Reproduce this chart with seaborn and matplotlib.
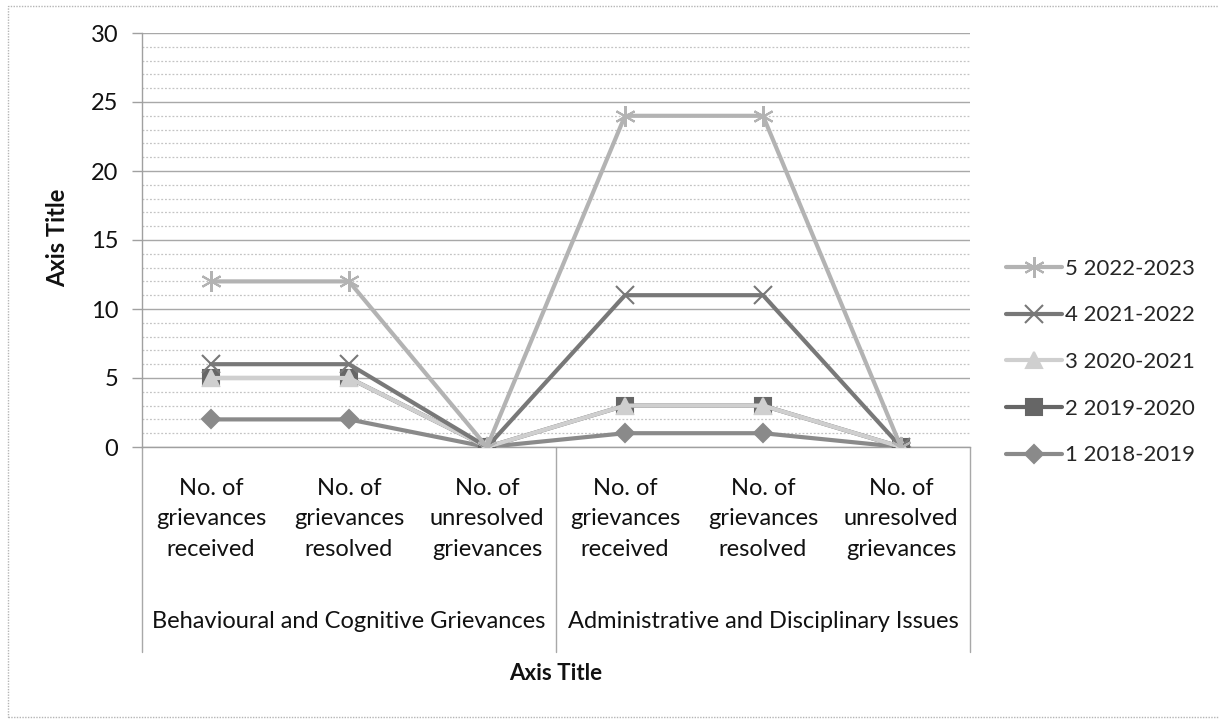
import numpy as np
import pandas as pd
import matplotlib
matplotlib.use("Agg")
import matplotlib.pyplot as plt
import matplotlib.transforms as mtransforms
from matplotlib.patches import Rectangle
from matplotlib.lines import Line2D
import seaborn as sns

# ---- data ----
categories = [
    "No. of\ngrievances\nreceived",
    "No. of\ngrievances\nresolved",
    "No. of\nunresolved\ngrievances",
    "No. of\ngrievances\nreceived",
    "No. of\ngrievances\nresolved",
    "No. of\nunresolved\ngrievances",
]
groups = ["Behavioural and Cognitive Grievances", "Administrative and Disciplinary Issues"]
series_names = ["1 2018-2019", "2 2019-2020", "3 2020-2021", "4 2021-2022", "5 2022-2023"]
s1 = [2, 2, 0, 1, 1, 0]
s2 = [5, 5, 0, 3, 3, 0]
s3 = [5, 5, 0, 3, 3, 0]
s4 = [6, 6, 0, 11, 11, 0]
s5 = [12, 12, 0, 24, 24, 0]
series_values = [s1, s2, s3, s4, s5]
y_ticks = [0, 5, 10, 15, 20, 25, 30]

rows = []
for name, vals in zip(series_names, series_values):
    for i, v in enumerate(vals):
        rows.append({"pos": i, "value": v, "series": name})
df = pd.DataFrame(rows)

# ---- style ----
sns.set_theme(style="white")
plt.rcParams['font.family'] = ['Lato', 'DejaVu Sans']

palette = {
    "1 2018-2019": "#8a8a8a",
    "2 2019-2020": "#666666",
    "3 2020-2021": "#cfcfcf",
    "4 2021-2022": "#787878",
    "5 2022-2023": "#b3b3b3",
}
markers = {
    "1 2018-2019": "D",
    "2 2019-2020": "s",
    "3 2020-2021": "^",
    "4 2021-2022": "x",
    "5 2022-2023": (6, 2, 0),
}
msizes = {"1 2018-2019": 9, "2 2019-2020": 11, "3 2020-2021": 11,
          "4 2021-2022": 13, "5 2022-2023": 15}

W, H = 1219, 719
fig = plt.figure(figsize=(W / 100, H / 100), dpi=100)
L, R, T, B = 142, 970, 33, 447
ax = fig.add_axes([L / W, 1 - B / H, (R - L) / W, (B - T) / H])

for name in series_names:
    sub = df[df["series"] == name]
    sns.lineplot(data=sub, x="pos", y="value", color=palette[name],
                 marker=markers[name], markersize=msizes[name],
                 markeredgecolor=palette[name], markerfacecolor=palette[name],
                 markeredgewidth=1.5, linewidth=3, legend=False, ax=ax, zorder=3)

ax.set_xlim(-0.5, len(categories) - 0.5)
ax.set_ylim(0, 30)
ax.set_yticks(y_ticks)
ax.set_yticks(np.arange(0, 31, 1), minor=True)
ax.yaxis.grid(True, which="major", color="#a8a8a8", linewidth=1.0, linestyle="-")
ax.yaxis.grid(True, which="minor", color="#c4c4c4", linewidth=0.9, linestyle=(0, (1.5, 1.5)))
ax.set_axisbelow(True)
ax.xaxis.grid(False)

for sp in ["top", "right"]:
    ax.spines[sp].set_visible(False)
ax.spines["left"].set_color("#a0a0a0")
ax.spines["bottom"].set_color("#a0a0a0")
ax.spines["left"].set_linewidth(1)
ax.spines["bottom"].set_linewidth(1)

ax.tick_params(axis="y", which="major", length=7, width=1, color="#a0a0a0",
               labelsize=17, pad=10, labelcolor="#111111", left=True)
ax.tick_params(axis="y", which="minor", length=0)
ax.set_xticks(range(len(categories)))
ax.set_xticklabels(categories, fontsize=17, linespacing=1.58, color="#111111")
ax.tick_params(axis="x", length=0, pad=22)

ax.set_xlabel("")
ax.set_ylabel("")

# category group separators
trans = mtransforms.blended_transform_factory(ax.transData, ax.transAxes)
sep_bottom = -(652 - B) / (B - T)
for xv in [-0.5, 2.5, 5.5]:
    ax.plot([xv, xv], [0, sep_bottom], transform=trans, color="#a8a8a8",
            linewidth=1, clip_on=False)

grp_y = -(622 - B) / (B - T)
for gi, g in enumerate(groups):
    ax.text(gi * 3 + 1, grp_y, g, transform=trans, ha="center", va="center",
            fontsize=17, color="#111111")

# axis titles
fig.text((L + R) / 2 / W, 1 - 673 / H, "Axis Title", ha="center", va="center",
         fontsize=16, fontweight="bold", color="#111111")
fig.text(58 / W, 1 - 238 / H, "Axis Title", ha="center", va="center",
         rotation=90, fontsize=17, fontweight="bold", color="#111111")

# legend (reversed order like the reference)
handles = []
for name in reversed(series_names):
    handles.append(Line2D([], [], color=palette[name], linewidth=3,
                          marker=markers[name], markersize=msizes[name],
                          markeredgecolor=palette[name], markerfacecolor=palette[name],
                          markeredgewidth=1.5))
leg = fig.legend(handles, list(reversed(series_names)), loc="center left",
                 bbox_to_anchor=(1006 / W, 1 - 362 / H), frameon=False,
                 fontsize=16, handlelength=2.5, labelspacing=1.2,
                 handletextpad=0.15, borderaxespad=0, borderpad=0)

# outer chart border
fig.patches.append(Rectangle((8 / W, 1 - 717 / H), (W + 10 - 8) / W, (717 - 6) / H,
                             transform=fig.transFigure, fill=False,
                             edgecolor="#b5b5b5", linewidth=1, linestyle=(0, (1, 1))))

fig.savefig("out.png", dpi=100)
